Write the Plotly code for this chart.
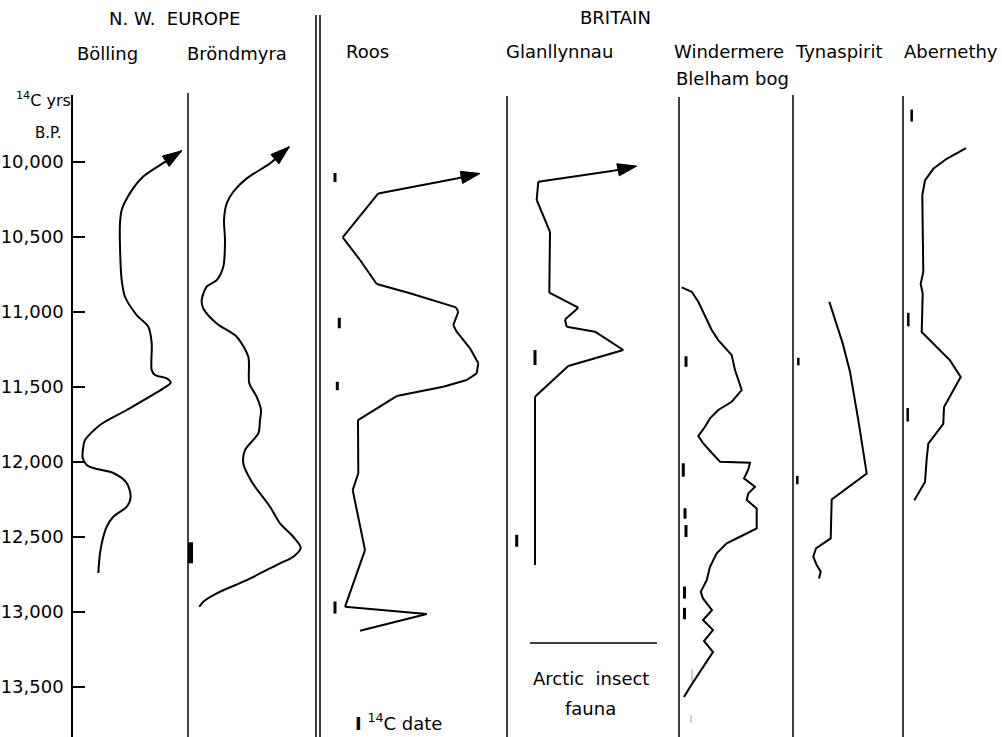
import plotly.graph_objects as go

# ---------------- DATA ----------------
# Y axis: radiocarbon years B.P.
tick_years = [10000, 10500, 11000, 11500, 12000, 12500, 13000, 13500]

# Each curve: relative index (x, arbitrary units from the panel baseline) vs 14C years (y)
bolling_x = [25.3, 27, 30.3, 33.7, 40.3, 53.7, 57.7, 53.7, 40.3, 20.3, 13.7, 9.7, 10.3, 12, 27, 53.7,
             90.3, 97.7, 93.7, 82, 78.7, 78.7, 75.3, 63.7, 52, 48.7, 47, 47, 48.7, 57, 70, 87, 108.7]
bolling_y = [12740, 12607, 12498, 12431, 12365, 12298, 12231, 12140, 12073, 12040, 12020, 11973, 11898,
             11853, 11753, 11653, 11509, 11471, 11442, 11420, 11387, 11207, 11098, 11020, 10898, 10787,
             10565, 10407, 10320, 10207, 10098, 10020, 9925]

brondmyra_x = [11.3, 15.3, 28.7, 58.7, 92, 105.3, 112.7, 105.3, 92, 82, 63.7, 55.3, 57, 70.3, 72, 73,
               68.7, 61.3, 60.3, 48.7, 28.7, 15.3, 13.7, 18.7, 28.7, 35.3, 37, 36, 38.7, 45.3, 58.7, 82, 101.3]
brondmyra_y = [12965, 12931, 12875, 12787, 12675, 12631, 12571, 12498, 12409, 12298, 12131, 12009, 11920,
               11809, 11720, 11653, 11565, 11475, 11298, 11165, 11076, 10976, 10920, 10831, 10787, 10698,
               10520, 10387, 10275, 10198, 10109, 10009, 9898]

roos_x = [40, 106.7, 25, 45, 32.7, 38.3, 38, 76.7, 123.3, 146.7, 156.7, 158.3, 150, 136.7, 133.3, 138.3,
          136, 90, 56.7, 40, 22.7, 58.3, 136.7, 160]
roos_y = [13125, 13013, 12965, 12587, 12187, 12075, 11720, 11560, 11498, 11453, 11409, 11342, 11242,
          11131, 11087, 10998, 10969, 10875, 10813, 10653, 10502, 10209, 10109, 10076]

glan_x = [28, 28, 48, 61.3, 89.7, 116.3, 88, 59.7, 58, 71.3, 42.3, 42.3, 43, 29.7, 31.3, 106.3, 129.7]
glan_y = [12687, 11565, 11442, 11360, 11305, 11253, 11131, 11098, 11049, 10971, 10871, 10598, 10465,
          10253, 10131, 10058, 10027]

wind_x = [2.7, 12.7, 19.3, 32.7, 39.3, 52.7, 56, 62.7, 52.7, 39.3, 31, 26, 19.3, 24.3, 32.7, 41, 71,
          69.3, 65, 76, 69.3, 67.7, 77.7, 77.7, 61, 47.7, 37.7, 31, 27.7, 21.7,
          24, 33, 24, 34, 25, 34, 26, 18, 11, 5]
wind_y = [10835, 10865, 10931, 11120, 11187, 11287, 11387, 11520, 11598, 11653, 11709, 11765, 11827,
          11876, 11938, 11998, 12005, 12049, 12109, 12165, 12209, 12253, 12309, 12442, 12498, 12542,
          12609, 12698, 12787, 12865, 12909, 12987, 13053, 13120, 13193, 13267, 13347, 13427, 13500, 13567]

tyna_x = [36.3, 49.7, 57, 65.3, 73.7, 38.7, 37.7, 30.3, 23, 20.3, 23.7, 27.7, 26]
tyna_y = [10931, 11209, 11398, 11720, 12076, 12249, 12509, 12542, 12575, 12631, 12687, 12731, 12776]

aber_x = [63, 43.7, 30.3, 22, 19.3, 19.7, 20.3, 17.7, 19.7, 18.7, 47, 57.7, 41, 40.3, 25.3, 23.7, 22, 11.3]
aber_y = [9907, 9978, 10045, 10122, 10222, 10445, 10733, 10811, 10878, 11133, 11322, 11433, 11633,
          11745, 11878, 11978, 12133, 12255]

# 14C dates: position (x index), age, half-length of the bar (years)
brond_date_x, brond_date_y, brond_date_err = [2.5], [12605], [70]
roos_date_x, roos_date_y, roos_date_err = [15, 19.3, 17.3, 15], [10103, 11073, 11493, 12970], [30, 35, 28, 40]
glan_date_x, glan_date_y, glan_date_err = [28, 9.7], [11303, 12525], [50, 40]
wind_date_x = [7, 4.3, 6, 7, 5.5, 5.5]
wind_date_y = [11330, 12053, 12343, 12460, 12870, 13010]
wind_date_err = [35, 45, 35, 40, 40, 38]
wind_faint_x, wind_faint_y, wind_faint_err = [13, 12], [13420, 13713], [40, 25]
tyna_date_x, tyna_date_y, tyna_date_err = [5.3, 4.3], [11330, 12120], [25, 28]
aber_date_x, aber_date_y, aber_date_err = [8.7, 5.3, 4.7], [9690, 11050, 11685], [40, 45, 45]

# Arctic insect fauna boundary (Glanllynnau)
arctic_x = [23, 150]
arctic_y = [13207, 13207]

# ---------------- LAYOUT HELPERS ----------------
W, H = 1002, 737
L, T = 73, 95
FONT = "DejaVu Sans"


def px(x):
    return (x - L) / (W - L)


def py(y):
    return (H - y) / (H - T)


# panel boundaries (pixels): baseline, right edge
panel_bounds = [(73, 188), (188, 316), (320, 507), (507, 679), (679, 793), (793, 903), (903, 1002)]

fig = go.Figure()

layout_axes = {}
for i, (a, b) in enumerate(panel_bounds, start=1):
    name = "xaxis" if i == 1 else f"xaxis{i}"
    layout_axes[name] = dict(domain=[px(a), px(b)], range=[0, b - a], visible=False,
                             anchor="y", fixedrange=True)


def add_curve(x, y, axis, shape="linear", arrow=False):
    n = len(x)
    if arrow:
        fig.add_trace(go.Scatter(
            x=x, y=y, xaxis=axis, yaxis="y", mode="lines+markers",
            line=dict(color="black", width=2, shape=shape, smoothing=0.8),
            marker=dict(symbol="arrow", angleref="previous", color="black", opacity=1,
                        size=[0] * (n - 1) + [20], line=dict(width=1, color="black")),
            hoverinfo="skip"))
    else:
        fig.add_trace(go.Scatter(
            x=x, y=y, xaxis=axis, yaxis="y", mode="lines",
            line=dict(color="black", width=2, shape=shape, smoothing=0.8),
            hoverinfo="skip"))


def add_dates(x, y, err, axis, thick=3, color="black"):
    fig.add_trace(go.Scatter(
        x=x, y=y, xaxis=axis, yaxis="y", mode="markers",
        marker=dict(size=1, color="rgba(0,0,0,0)"),
        error_y=dict(type="data", array=err, symmetric=True, thickness=thick, width=0, color=color),
        hoverinfo="skip"))


add_curve(bolling_x, bolling_y, "x", shape="spline", arrow=True)
add_curve(brondmyra_x, brondmyra_y, "x2", shape="spline", arrow=True)
add_curve(roos_x, roos_y, "x3", arrow=True)
add_curve(glan_x, glan_y, "x4", arrow=True)
add_curve(wind_x, wind_y, "x5")
add_curve(tyna_x, tyna_y, "x6")
add_curve(aber_x, aber_y, "x7")

fig.add_trace(go.Scatter(x=arctic_x, y=arctic_y, xaxis="x4", yaxis="y", mode="lines",
                         line=dict(color="black", width=1.5), hoverinfo="skip"))

add_dates(brond_date_x, brond_date_y, brond_date_err, "x2", thick=5)
add_dates(roos_date_x, roos_date_y, roos_date_err, "x3")
add_dates(glan_date_x, glan_date_y, glan_date_err, "x4")
add_dates(wind_date_x, wind_date_y, wind_date_err, "x5")
add_dates(wind_faint_x, wind_faint_y, wind_faint_err, "x5", thick=1, color="#999999")
add_dates(tyna_date_x, tyna_date_y, tyna_date_err, "x6", thick=2.5)
add_dates(aber_date_x, aber_date_y, aber_date_err, "x7", thick=2.5)

# vertical column lines (pixel x, top pixel y)
col_lines = [(188, 93), (316, 15), (320, 15), (507, 96), (679, 97), (793, 95), (903, 96)]
shapes = []
for xl, top in col_lines:
    shapes.append(dict(type="line", xref="paper", yref="paper", x0=px(xl), x1=px(xl),
                       y0=0, y1=py(top), line=dict(color="black", width=1.5)))

# text labels
texts = [
    ("N. W.\u00a0\u00a0EUROPE", 174, 19, "center", 18),
    ("BRITAIN", 615, 17, "center", 18),
    ("Bölling", 107, 53, "center", 18),
    ("Bröndmyra", 237, 53, "center", 18),
    ("Roos", 367, 52, "center", 18),
    ("Glanllynnau", 559, 52, "center", 18),
    ("Windermere", 729, 52, "center", 18),
    ("Blelham\u00a0bog", 674, 78, "left", 18),
    ("Tynaspirit", 839, 52, "center", 18),
    ("Abernethy", 951, 52, "center", 18),
    ("<sup>14</sup>C yrs", 73, 99, "right", 16),
    ("B.P.", 48, 133, "center", 15),
    ("Arctic\u00a0\u00a0insect", 591, 678, "center", 18),
    ("fauna", 590, 708, "center", 18),
    ("<b>I</b>\u00a0<sup>14</sup>C date", 398, 722, "center", 18),
]
annotations = []
for t, x, y, anc, size in texts:
    annotations.append(dict(text=t, xref="paper", yref="paper", x=px(x), y=py(y),
                            xanchor=anc, yanchor="middle", showarrow=False,
                            font=dict(family=FONT, size=size, color="black")))

fig.update_layout(
    width=W, height=H,
    margin=dict(l=L, r=0, t=T, b=0, pad=0),
    paper_bgcolor="white", plot_bgcolor="white",
    showlegend=False,
    shapes=shapes,
    annotations=annotations,
    yaxis=dict(range=[13833, 9553], tickvals=tick_years, tickformat=",",
               ticks="inside", ticklen=12, tickwidth=1.5, tickcolor="black",
               showline=True, linecolor="black", linewidth=1.5, mirror=False,
               showgrid=False, zeroline=False, anchor="x", ticklabelstandoff=4,
               tickfont=dict(family=FONT, size=18, color="black"), fixedrange=True),
    **layout_axes,
)

fig.write_html("out.html", config={"displayModeBar": False},
               post_script="document.body.style.margin='0px';")
